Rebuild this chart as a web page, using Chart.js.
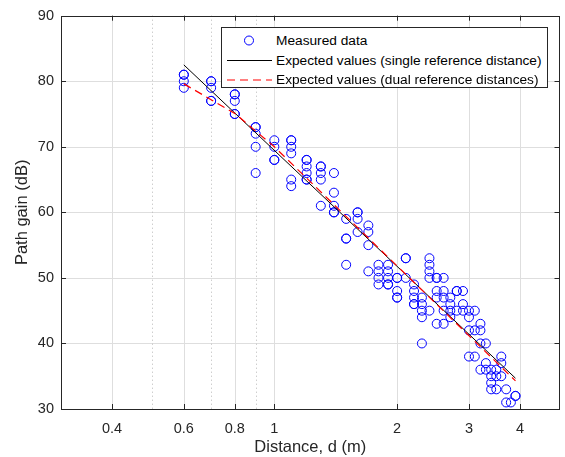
<!DOCTYPE html>
<html>
<head>
<meta charset="utf-8">
<script src="https://cdn.jsdelivr.net/npm/chart.js@4.4.1/dist/chart.umd.min.js"></script>
<style>
  body { margin: 0; background: #fff; }
  #wrap { position: relative; width: 565px; height: 457px; }
  #legend {
    position: absolute; left: 221px; top: 27px; width: 327px; height: 61px;
    box-sizing: border-box; border: 1px solid #262626; background: #fff;
    font: 13.7px "Liberation Sans", Arial, sans-serif; color: #000;
  }
  .row { position: absolute; left: 0; width: 100%; height: 19px; line-height: 19px; }
  .row svg { position: absolute; left: 0; top: 0; }
  .row span { position: absolute; left: 54px; white-space: nowrap; }
</style>
</head>
<body>
<div id="wrap">
  <canvas id="chart" width="565" height="457"></canvas>
  <div id="legend">
    <div class="row" style="top:3px">
      <svg width="54" height="19"><circle cx="27" cy="9.5" r="4.5" fill="none" stroke="#0000ff" stroke-width="1"/></svg>
      <span>Measured data</span>
    </div>
    <div class="row" style="top:22.5px">
      <svg width="54" height="19"><line x1="5" y1="9.5" x2="50" y2="9.5" stroke="#000" stroke-width="1"/></svg>
      <span>Expected values (single reference distance)</span>
    </div>
    <div class="row" style="top:42px">
      <svg width="54" height="19"><line x1="5" y1="10" x2="50" y2="10" stroke="#ff0000" stroke-width="1.2" stroke-dasharray="8 5"/></svg>
      <span>Expected values (dual reference distances)</span>
    </div>
  </div>
</div>
<script>
// measured path gain, grouped by distance
const measuredDistances = [0.6, 0.7, 0.8, 0.9, 1.0, 1.1, 1.2, 1.3, 1.4, 1.5, 1.6, 1.7, 1.8, 1.9,
  2.0, 2.1, 2.2, 2.3, 2.4, 2.5, 2.6, 2.7, 2.8, 2.9, 3.0, 3.1, 3.2, 3.3, 3.4, 3.5, 3.6, 3.7, 3.8, 3.9];
const measuredGains = [
  [81, 81, 80, 79],
  [80, 80, 79, 77, 77],
  [78, 78, 77, 75, 75],
  [73, 73, 72, 70, 66],
  [71, 70, 68, 68],
  [71, 71, 70, 69, 65, 64],
  [68, 68, 67, 66, 65, 65],
  [67, 67, 66, 65, 61],
  [66, 63, 61, 60, 60],
  [59, 56, 56, 52],
  [60, 60, 59, 57],
  [58, 57, 55, 51],
  [52, 51, 50, 49],
  [52, 51, 50, 49, 49],
  [50, 50, 48, 47, 47],
  [53, 53, 50],
  [49, 48, 47, 46, 46],
  [47, 46, 45, 44, 40],
  [53, 52, 51, 50, 45],
  [50, 50, 48, 47, 43],
  [50, 48, 47, 45, 43],
  [47, 46, 45, 44],
  [48, 48, 45],
  [48, 46, 45],
  [45, 44, 42, 38],
  [45, 42, 38],
  [43, 42, 40, 36],
  [40, 37, 36],
  [36, 35, 34, 33],
  [36, 35, 33],
  [38, 37, 35],
  [33, 31],
  [31],
  [32, 32]
];

const singleRefDist = [0.6, 3.9];
const singleRefGain = [82.5, 34.7];
const dualRefDist = [0.6, 0.8, 1.0, 3.9];
const dualRefGain = [79.6, 75.1, 70.0, 34.3];

const xTickValues = [0.4, 0.6, 0.8, 1, 2, 3, 4];
const xMinorGrid = [0.5, 0.7, 0.9];
const yTickValues = [30, 40, 50, 60, 70, 80, 90];

const axisColor = '#262626';
const fontFamily = '"Liberation Sans", Arial, sans-serif';

const measured = [];
measuredDistances.forEach((d, i) => {
  measuredGains[i].forEach(g => measured.push({ x: d, y: g }));
});
const toPoints = (xs, ys) => xs.map((x, i) => ({ x, y: ys[i] }));

const crisp = v => Math.round(v) + 0.5;

// grid behind the data, box and inward ticks on top
const frame = {
  id: 'frame',
  beforeDatasetsDraw(chart) {
    const { ctx, chartArea: a, scales: { x, y } } = chart;
    ctx.save();
    ctx.lineWidth = 1;
    ctx.strokeStyle = '#dedede';
    ctx.beginPath();
    xTickValues.forEach(v => {
      const px = crisp(x.getPixelForValue(v));
      ctx.moveTo(px, a.top); ctx.lineTo(px, a.bottom);
    });
    yTickValues.forEach(v => {
      const py = crisp(y.getPixelForValue(v));
      ctx.moveTo(a.left, py); ctx.lineTo(a.right, py);
    });
    ctx.stroke();
    ctx.strokeStyle = '#b8b8b8';
    ctx.setLineDash([1, 3]);
    ctx.beginPath();
    xMinorGrid.forEach(v => {
      const px = crisp(x.getPixelForValue(v));
      ctx.moveTo(px, a.top); ctx.lineTo(px, a.bottom);
    });
    ctx.stroke();
    ctx.restore();
  },
  afterDraw(chart) {
    const { ctx, chartArea: a, scales: { x, y } } = chart;
    const len = 5;
    ctx.save();
    ctx.lineWidth = 1;
    ctx.strokeStyle = axisColor;
    ctx.beginPath();
    xTickValues.forEach(v => {
      const px = crisp(x.getPixelForValue(v));
      ctx.moveTo(px, a.bottom); ctx.lineTo(px, a.bottom - len);
      ctx.moveTo(px, a.top); ctx.lineTo(px, a.top + len);
    });
    yTickValues.forEach(v => {
      const py = crisp(y.getPixelForValue(v));
      ctx.moveTo(a.left, py); ctx.lineTo(a.left + len, py);
      ctx.moveTo(a.right, py); ctx.lineTo(a.right - len, py);
    });
    ctx.stroke();
    ctx.strokeRect(crisp(a.left), crisp(a.top), Math.round(a.right - a.left) - 1, Math.round(a.bottom - a.top));
    ctx.restore();
  }
};

new Chart(document.getElementById('chart'), {
  type: 'scatter',
  data: {
    datasets: [
      {
        label: 'Measured data',
        data: measured,
        showLine: false,
        pointRadius: 4.5,
        pointHoverRadius: 4.5,
        pointBorderWidth: 1,
        pointBorderColor: '#0000ff',
        pointBackgroundColor: 'rgba(0,0,0,0)',
        order: 3
      },
      {
        label: 'Expected values (single reference distance)',
        data: toPoints(singleRefDist, singleRefGain),
        showLine: true,
        borderColor: '#000000',
        borderWidth: 1,
        pointRadius: 0,
        order: 2
      },
      {
        label: 'Expected values (dual reference distances)',
        data: toPoints(dualRefDist, dualRefGain),
        showLine: true,
        borderColor: '#ff0000',
        borderWidth: 1.2,
        borderDash: [8, 5],
        pointRadius: 0,
        order: 1
      }
    ]
  },
  options: {
    responsive: false,
    animation: false,
    devicePixelRatio: 1,
    layout: { padding: { top: 15, right: 5, left: 0, bottom: 0 } },
    plugins: { legend: { display: false }, tooltip: { enabled: false } },
    scales: {
      x: {
        type: 'logarithmic',
        min: 0.3,
        max: 5,
        afterBuildTicks: s => { s.ticks = xTickValues.map(v => ({ value: v })); },
        afterFit: s => { s.height = 48; },
        grid: { display: false, drawTicks: false },
        border: { display: false },
        ticks: {
          autoSkip: false,
          maxRotation: 0,
          padding: 11,
          color: axisColor,
          font: { family: fontFamily, size: 14.5 },
          callback: v => String(v)
        },
        title: {
          display: true,
          text: 'Distance, d (m)',
          color: axisColor,
          font: { family: fontFamily, size: 16.5 },
          padding: { top: 0, bottom: 0 }
        }
      },
      y: {
        min: 30,
        max: 90,
        afterFit: s => { s.width = 61; },
        grid: { display: false, drawTicks: false },
        border: { display: false },
        ticks: {
          stepSize: 10,
          padding: 7,
          color: axisColor,
          font: { family: fontFamily, size: 14.5 }
        },
        title: {
          display: true,
          text: 'Path gain (dB)',
          color: axisColor,
          font: { family: fontFamily, size: 16.5 },
          padding: { top: 13, bottom: 0 }
        }
      }
    }
  },
  plugins: [frame]
});
</script>
</body>
</html>
